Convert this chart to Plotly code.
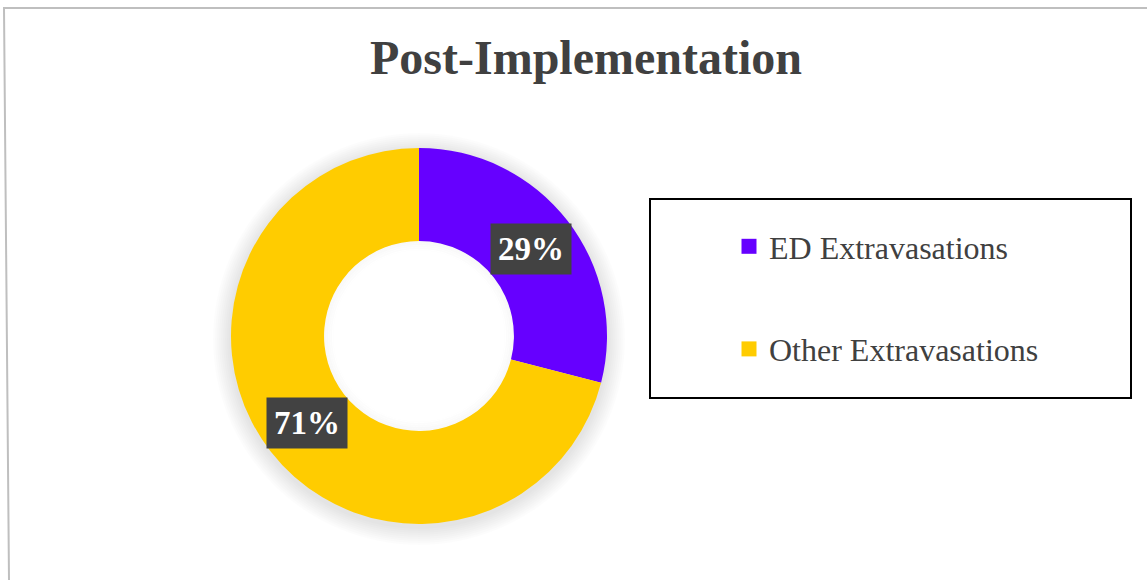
import math
import plotly.graph_objects as go

# ---- data ----
categories = ["ED Extravasations", "Other Extravasations"]
values = [29, 71]
colors = ["#6600FF", "#FFCC00"]
title_text = "Post-Implementation"

# ---- layout constants (pixels) ----
W, H = 1147, 580
cx, cy, R = 419, 336, 188
HOLE = 0.505
FONT = "Liberation Serif"
TXT = "#404040"


def px(x):
    return x / W


def py(y):
    return 1 - y / H


fig = go.Figure()

fig.add_trace(go.Pie(
    labels=categories,
    values=values,
    hole=HOLE,
    sort=False,
    direction="clockwise",
    rotation=0,
    marker=dict(colors=colors, line=dict(width=0)),
    textinfo="none",
    hoverinfo="label+percent",
    showlegend=False,
    domain=dict(x=[px(cx - R), px(cx + R)], y=[py(cy + R), py(cy - R)]),
))

# legend entries (square markers) built from the categories
for cat, col in zip(categories, colors):
    fig.add_trace(go.Scatter(
        x=[None], y=[None], mode="markers", name=cat, legendgroup=cat,
        marker=dict(symbol="square", size=15, color=col),
        hoverinfo="skip",
    ))

# percentage labels computed from the data
total = sum(values)
annotations = []
cum = 0.0
r_mid = (R + R * HOLE) / 2
for v in values:
    frac = v / total
    mid = (cum + frac / 2) * 2 * math.pi
    lx = cx + r_mid * math.sin(mid)
    ly = cy - r_mid * math.cos(mid)
    annotations.append(dict(
        x=px(lx), y=py(ly), xref="paper", yref="paper",
        text="<b>%d%%</b>" % round(frac * 100), showarrow=False,
        font=dict(family=FONT, size=33, color="white"),
        bgcolor="#424242", borderpad=7,
        xanchor="center", yanchor="middle",
    ))
    cum += frac

shapes = []
# soft glow around the donut
for k in range(1, 10):
    r = R + 2 * k
    shapes.append(dict(
        type="circle", xref="paper", yref="paper", layer="below",
        x0=px(cx - r), x1=px(cx + r), y0=py(cy + 3 + r), y1=py(cy + 3 - r),
        fillcolor="rgba(0,0,0,0.011)", line=dict(width=0),
    ))
# white hole (covers the glow)
rh = R * HOLE
shapes.append(dict(
    type="circle", xref="paper", yref="paper", layer="below",
    x0=px(cx - rh - 2), x1=px(cx + rh + 2), y0=py(cy + rh + 2), y1=py(cy - rh - 2),
    fillcolor="white", line=dict(width=0),
))
# faint inner shadow in the hole
for k in range(1, 6):
    r = rh - 2 * k + 1
    shapes.append(dict(
        type="circle", xref="paper", yref="paper", layer="above",
        x0=px(cx - r), x1=px(cx + r), y0=py(cy + r), y1=py(cy - r),
        line=dict(color="rgba(0,0,0,%.3f)" % (0.035 - 0.006 * k), width=2),
    ))
# outer frame
shapes.append(dict(
    type="path", xref="paper", yref="paper",
    path="M %f,%f L %f,%f L %f,%f" % (px(9), py(580), px(4), py(8), px(1147), py(8)),
    line=dict(color="#BFBFBF", width=2),
))
# legend box
shapes.append(dict(
    type="rect", xref="paper", yref="paper",
    x0=px(650), x1=px(1131), y0=py(398), y1=py(199),
    line=dict(color="black", width=2), fillcolor="rgba(0,0,0,0)",
))

fig.update_layout(
    width=W, height=H,
    margin=dict(l=0, r=0, t=0, b=0),
    paper_bgcolor="white",
    plot_bgcolor="rgba(0,0,0,0)",
    title=dict(
        text="<b>%s</b>" % title_text,
        font=dict(family=FONT, size=48, color=TXT),
        x=px(586), xanchor="center",
        y=py(57), yanchor="middle", yref="container",
    ),
    xaxis=dict(visible=False),
    yaxis=dict(visible=False),
    legend=dict(
        x=px(729), y=py(219), xanchor="left", yanchor="top",
        font=dict(family=FONT, size=32, color=TXT),
        bgcolor="rgba(0,0,0,0)", borderwidth=0,
        tracegroupgap=58, itemclick=False, itemdoubleclick=False,
    ),
    annotations=annotations,
    shapes=shapes,
    showlegend=True,
)

fig.write_html("out.html")
